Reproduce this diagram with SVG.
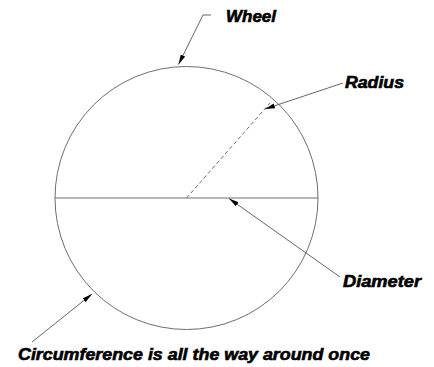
<svg xmlns="http://www.w3.org/2000/svg" width="434" height="367" viewBox="0 0 434 367">
<style>
.ln{fill:none;stroke:#6e6e6e;stroke-width:1}
.ld{fill:none;stroke:#555;stroke-width:0.9;marker-end:url(#ah)}
.t{font-family:"Liberation Sans",Arial,sans-serif;font-weight:bold;font-style:italic;font-size:16px;fill:#000;stroke:#000;stroke-width:0.6}
</style>
<defs>
<marker id="ah" viewBox="0 0 10 6" refX="10" refY="3" markerWidth="10" markerHeight="6" markerUnits="userSpaceOnUse" orient="auto">
<path d="M0,0.6 L10,3 L0,5.4 Z" fill="#000"/>
</marker>
</defs>
<g id="wheel">
<circle class="ln" cx="186.5" cy="198" r="131.5"/>
<line id="diameter-line" class="ln" x1="55" y1="198" x2="318" y2="198"/>
<line id="radius-line" class="ln" x1="186.5" y1="198" x2="270" y2="103" stroke-dasharray="4,2.5"/>
</g>
<g id="connectors">
<polyline class="ld" points="211,15 203,15 178.5,64.5"/>
<line class="ld" x1="343" y1="83" x2="265" y2="109"/>
<line class="ld" x1="340" y1="277" x2="229" y2="198.5"/>
<line class="ld" x1="32" y1="342" x2="92" y2="294"/>
</g>
<g id="label-wheel"><text class="t" x="226" y="22" textLength="50" lengthAdjust="spacingAndGlyphs">Wheel</text></g>
<g id="label-radius"><text class="t" x="345" y="88" textLength="59" lengthAdjust="spacingAndGlyphs">Radius</text></g>
<g id="label-diameter"><text class="t" x="343" y="287" textLength="78" lengthAdjust="spacingAndGlyphs">Diameter</text></g>
<g id="label-circumference"><text class="t" x="18" y="360" textLength="352" lengthAdjust="spacingAndGlyphs">Circumference is all the way around once</text></g>
</svg>
